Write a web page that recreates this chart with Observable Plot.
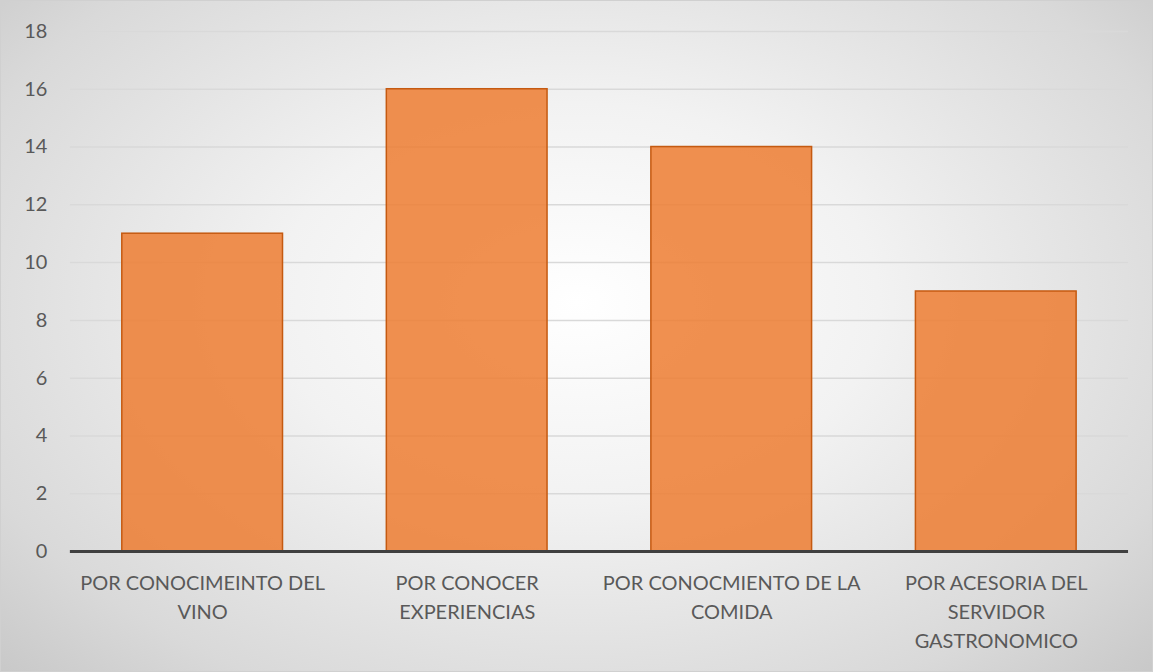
<!DOCTYPE html>
<html>
<head>
<meta charset="utf-8">
<script src="https://cdn.jsdelivr.net/npm/d3@7"></script>
<script src="https://cdn.jsdelivr.net/npm/@observablehq/plot@0.6"></script>
<style>
  html, body { margin: 0; padding: 0; }
  #chart {
    position: relative;
    width: 1153px; height: 672px; box-sizing: border-box;
    border: 1px solid #d0d0d0;
    background: radial-gradient(ellipse 75% 85% at 50% 45%, #ffffff 0%, #f2f2f2 35%, #d9d9d9 75%, #c2c2c2 100%);
    font-family: Lato, "Open Sans", sans-serif;
  }
  #chart svg { position: absolute; left: -1px; top: -1px; background: transparent; }
</style>
</head>
<body>
<div id="chart"></div>
<script>
const categories = [
  "POR CONOCIMEINTO DEL\nVINO",
  "POR CONOCER\nEXPERIENCIAS",
  "POR CONOCMIENTO DE LA\nCOMIDA",
  "POR ACESORIA DEL\nSERVIDOR\nGASTRONOMICO"
];
const values = [11, 16, 14, 9];
const yTicks = [0, 2, 4, 6, 8, 10, 12, 14, 16, 18];

const data = categories.map((c, i) => ({category: c, value: values[i]}));

const chart = Plot.plot({
  width: 1153,
  height: 672,
  marginLeft: 70,
  marginRight: 23,
  marginTop: 31,
  marginBottom: 120,
  style: {background: "transparent", fontFamily: "Lato, 'Open Sans', sans-serif", fontSize: "20px", color: "#595959"},
  x: {domain: categories, paddingInner: 0.392, paddingOuter: 0.196, label: null},
  y: {domain: [0, 18], label: null},
  marks: [
    Plot.gridY(yTicks, {stroke: "#d9d9d9", strokeOpacity: 1, strokeWidth: 1.5}),
    Plot.barY(data, {x: "category", y: "value", fill: "#ED7D31", fillOpacity: 0.85, stroke: "#C55A11", strokeWidth: 1.5}),
    Plot.ruleY([0], {stroke: "#404040", strokeWidth: 3}),
    Plot.axisY({ticks: yTicks, tickSize: 0, tickPadding: 23, fontSize: 20, fill: "#595959", textAnchor: "end"}),
    Plot.axisX({tickSize: 0, tickPadding: 18, fontSize: 20, fill: "#595959", lineHeight: 1.45})
  ]
});
document.getElementById("chart").appendChild(chart);
</script>
</body>
</html>
